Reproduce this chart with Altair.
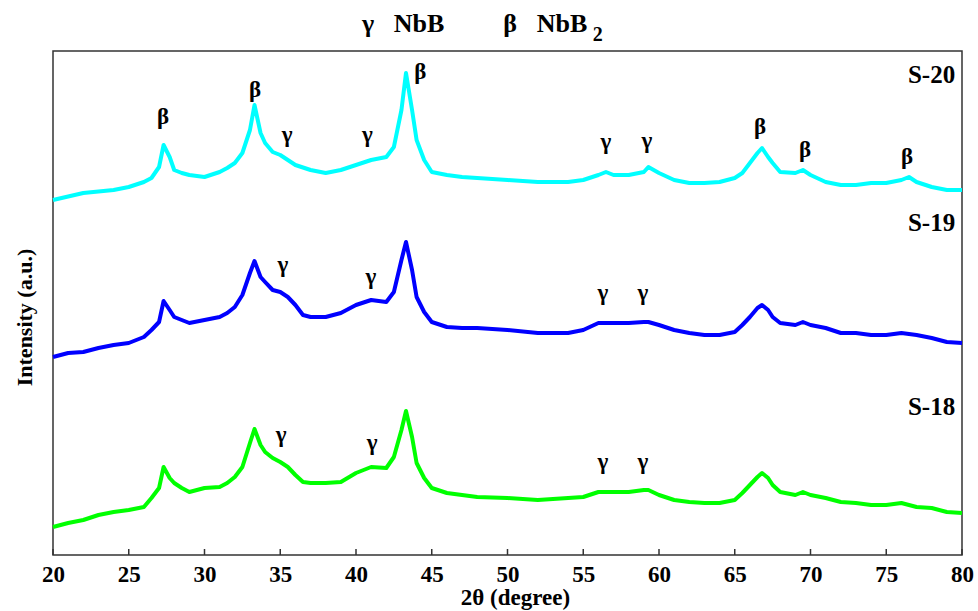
import altair as alt
import pandas as pd

# ---- data (2θ in degrees, intensity in arbitrary units) ----
x_s20 = [20, 22, 24, 25, 26, 26.5, 27, 27.3, 27.7, 28, 28.5, 29, 30, 31, 31.5, 32, 32.5, 33, 33.3, 33.7,
         34, 34.5, 35, 35.5, 36, 37, 38, 39, 40, 41, 42, 42.5, 43, 43.3, 43.7, 44, 44.5, 45, 46, 47,
         48, 50, 52, 54, 55, 56, 56.5, 57, 58, 59, 59.3, 60, 61, 62, 63, 64, 65, 65.5, 66, 66.5,
         66.8, 67.2, 67.5, 68, 69, 69.5, 70, 71, 72, 73, 74, 75, 76, 76.5, 77, 78, 79, 80]
y_s20 = [355, 362, 365, 368, 373, 377, 388, 410, 398, 385, 382, 380, 378, 383, 387, 392, 402, 425, 450, 422,
         412, 403, 400, 395, 390, 385, 382, 385, 390, 395, 398, 408, 445, 482, 445, 415, 395, 383, 380, 378,
         377, 375, 373, 373, 375, 380, 383, 380, 380, 383, 388, 382, 375, 372, 372, 373, 377, 382, 392, 402,
         407, 398, 392, 383, 382, 385, 380, 373, 370, 370, 372, 372, 375, 378, 373, 368, 365, 365]

x_s19 = [20, 21, 22, 23, 24, 25, 26, 26.5, 27, 27.3, 27.7, 28, 28.5, 29, 30, 31, 31.5, 32, 32.5, 33,
         33.3, 33.7, 34, 34.5, 35, 35.5, 36, 36.5, 37, 38, 39, 40, 41, 42, 42.5, 43, 43.3, 43.7, 44, 44.5,
         45, 46, 47, 48, 50, 52, 54, 55, 56, 57, 58, 59, 59.3, 60, 61, 62, 63, 64, 65, 65.5,
         66, 66.5, 66.8, 67.2, 67.5, 68, 69, 69.5, 70, 71, 72, 73, 74, 75, 76, 77, 78, 79, 80]
y_s19 = [198, 202, 203, 207, 210, 212, 218, 225, 233, 254, 245, 238, 235, 232, 235, 238, 242, 248, 260, 282,
         294, 278, 273, 265, 263, 258, 250, 240, 238, 238, 242, 250, 255, 253, 263, 295, 313, 285, 258, 243,
         233, 228, 227, 227, 225, 222, 222, 225, 232, 232, 232, 233, 233, 230, 225, 222, 220, 220, 223, 230,
         238, 247, 250, 245, 238, 232, 230, 233, 230, 227, 222, 222, 220, 220, 222, 220, 217, 213, 212]

x_s18 = x_s19
y_s18 = [28, 32, 35, 40, 43, 45, 48, 57, 67, 88, 77, 72, 67, 63, 67, 68, 72, 78, 88, 112,
         126, 110, 103, 97, 93, 88, 80, 73, 72, 72, 73, 82, 88, 87, 98, 125, 144, 118, 92, 77,
         67, 62, 60, 58, 57, 55, 57, 58, 63, 63, 63, 65, 65, 60, 55, 53, 52, 52, 55, 62,
         70, 78, 82, 77, 70, 63, 60, 63, 60, 57, 53, 52, 50, 50, 52, 48, 47, 43, 42]

samples = ["S-20", "S-19", "S-18"]
colors = ["#00FFFF", "#0000FF", "#00FF00"]
x_ticks = [20, 25, 30, 35, 40, 45, 50, 55, 60, 65, 70, 75, 80]

# peak labels (phase symbol, 2θ, intensity)
peak_sym = ["β", "β", "γ", "γ", "β", "γ", "γ", "β", "β", "β",
            "γ", "γ", "γ", "γ",
            "γ", "γ", "γ", "γ"]
peak_x = [27.26, 33.33, 35.45, 40.75, 44.25, 56.5, 59.2, 66.67, 69.64, 76.37,
          35.18, 40.99, 56.3, 58.94,
          35.05, 41.06, 56.3, 58.94]
peak_y = [438, 465, 420, 420, 483, 413, 414, 428, 405, 398,
          290, 278, 262, 262,
          120, 112, 93, 93]

# sample names
name_x = [79.55, 79.55, 79.55]
name_y = [480, 332, 148]

# header above the plot
hdr_text = ["γ", "NbB", "β", "NbB"]
hdr_x = [40.79, 44.16, 50.17, 53.60]
hdr_y = [523, 523, 523, 523]
sub_text = ["2"]
sub_x = [55.95]
sub_y = [514]

FONT = "Liberation Serif"

rows = []
for name, xs, ys in [("S-20", x_s20, y_s20), ("S-19", x_s19, y_s19), ("S-18", x_s18, y_s18)]:
    for a, b in zip(xs, ys):
        rows.append({"two_theta": a, "intensity": b, "sample": name})
df = pd.DataFrame(rows)

x_enc = alt.X("two_theta:Q",
              scale=alt.Scale(domain=[20, 80], nice=False, zero=False),
              axis=alt.Axis(values=x_ticks, title="2θ (degree)", format="d",
                            labelFont=FONT, labelFontSize=23, labelFontWeight="bold", labelColor="black",
                            labelPadding=8, labelFlush=False, labelOverlap=False,
                            domain=False, ticks=False, grid=False,
                            titleFont=FONT, titleFontSize=23, titleFontWeight="bold", titleColor="black",
                            titleX=462, titleY=49, titleBaseline="alphabetic", titleAlign="center"))
y_enc = alt.Y("intensity:Q",
              scale=alt.Scale(domain=[0, 504], nice=False, zero=False),
              axis=alt.Axis(title="Intensity (a.u.)", labels=False, ticks=False, domain=False, grid=False,
                            titleFont=FONT, titleFontSize=22, titleFontWeight="bold", titleColor="black",
                            titleAngle=270, titleX=-29, titleY=266, titleBaseline="middle",
                            titleAlign="center"))

lines = alt.Chart(df).mark_line(strokeWidth=4, strokeJoin="round").encode(
    x=x_enc, y=y_enc,
    color=alt.Color("sample:N", scale=alt.Scale(domain=samples, range=colors), legend=None),
    detail="sample:N",
)

ticks_df = pd.DataFrame({"tick": x_ticks})
tick_marks = alt.Chart(ticks_df).mark_rule(color="#333333", strokeWidth=1.5).encode(
    x="tick:Q", y=alt.value(504), y2=alt.value(498)
)

peaks_df = pd.DataFrame({"sym": peak_sym, "x": peak_x, "y": peak_y})
peak_text = alt.Chart(peaks_df).mark_text(font=FONT, fontSize=23, fontWeight="bold", color="black",
                                          align="center", baseline="middle").encode(
    x="x:Q", y="y:Q", text="sym:N")

names_df = pd.DataFrame({"name": samples, "x": name_x, "y": name_y})
name_text = alt.Chart(names_df).mark_text(font=FONT, fontSize=25, fontWeight="bold", color="black",
                                          align="right", baseline="middle").encode(
    x="x:Q", y="y:Q", text="name:N")

hdr_df = pd.DataFrame({"t": hdr_text, "x": hdr_x, "y": hdr_y})
hdr_marks = alt.Chart(hdr_df).mark_text(font=FONT, fontSize=26, fontWeight="bold", color="black",
                                        align="center", baseline="alphabetic").encode(
    x="x:Q", y="y:Q", text="t:N")

sub_df = pd.DataFrame({"t": sub_text, "x": sub_x, "y": sub_y})
sub_marks = alt.Chart(sub_df).mark_text(font=FONT, fontSize=20, fontWeight="bold", color="black",
                                        align="center", baseline="alphabetic").encode(
    x="x:Q", y="y:Q", text="t:N")

chart = alt.layer(lines, tick_marks, peak_text, name_text, hdr_marks, sub_marks).properties(
    width=909, height=504,
    padding={"left": 53, "top": 51, "right": 16, "bottom": 56},
    autosize=alt.AutoSizeParams(type="none"),
    background="white",
).configure_view(stroke="#333333", strokeWidth=1.5)

chart.save("out.html", embed_options={"renderer": "svg", "actions": False})
